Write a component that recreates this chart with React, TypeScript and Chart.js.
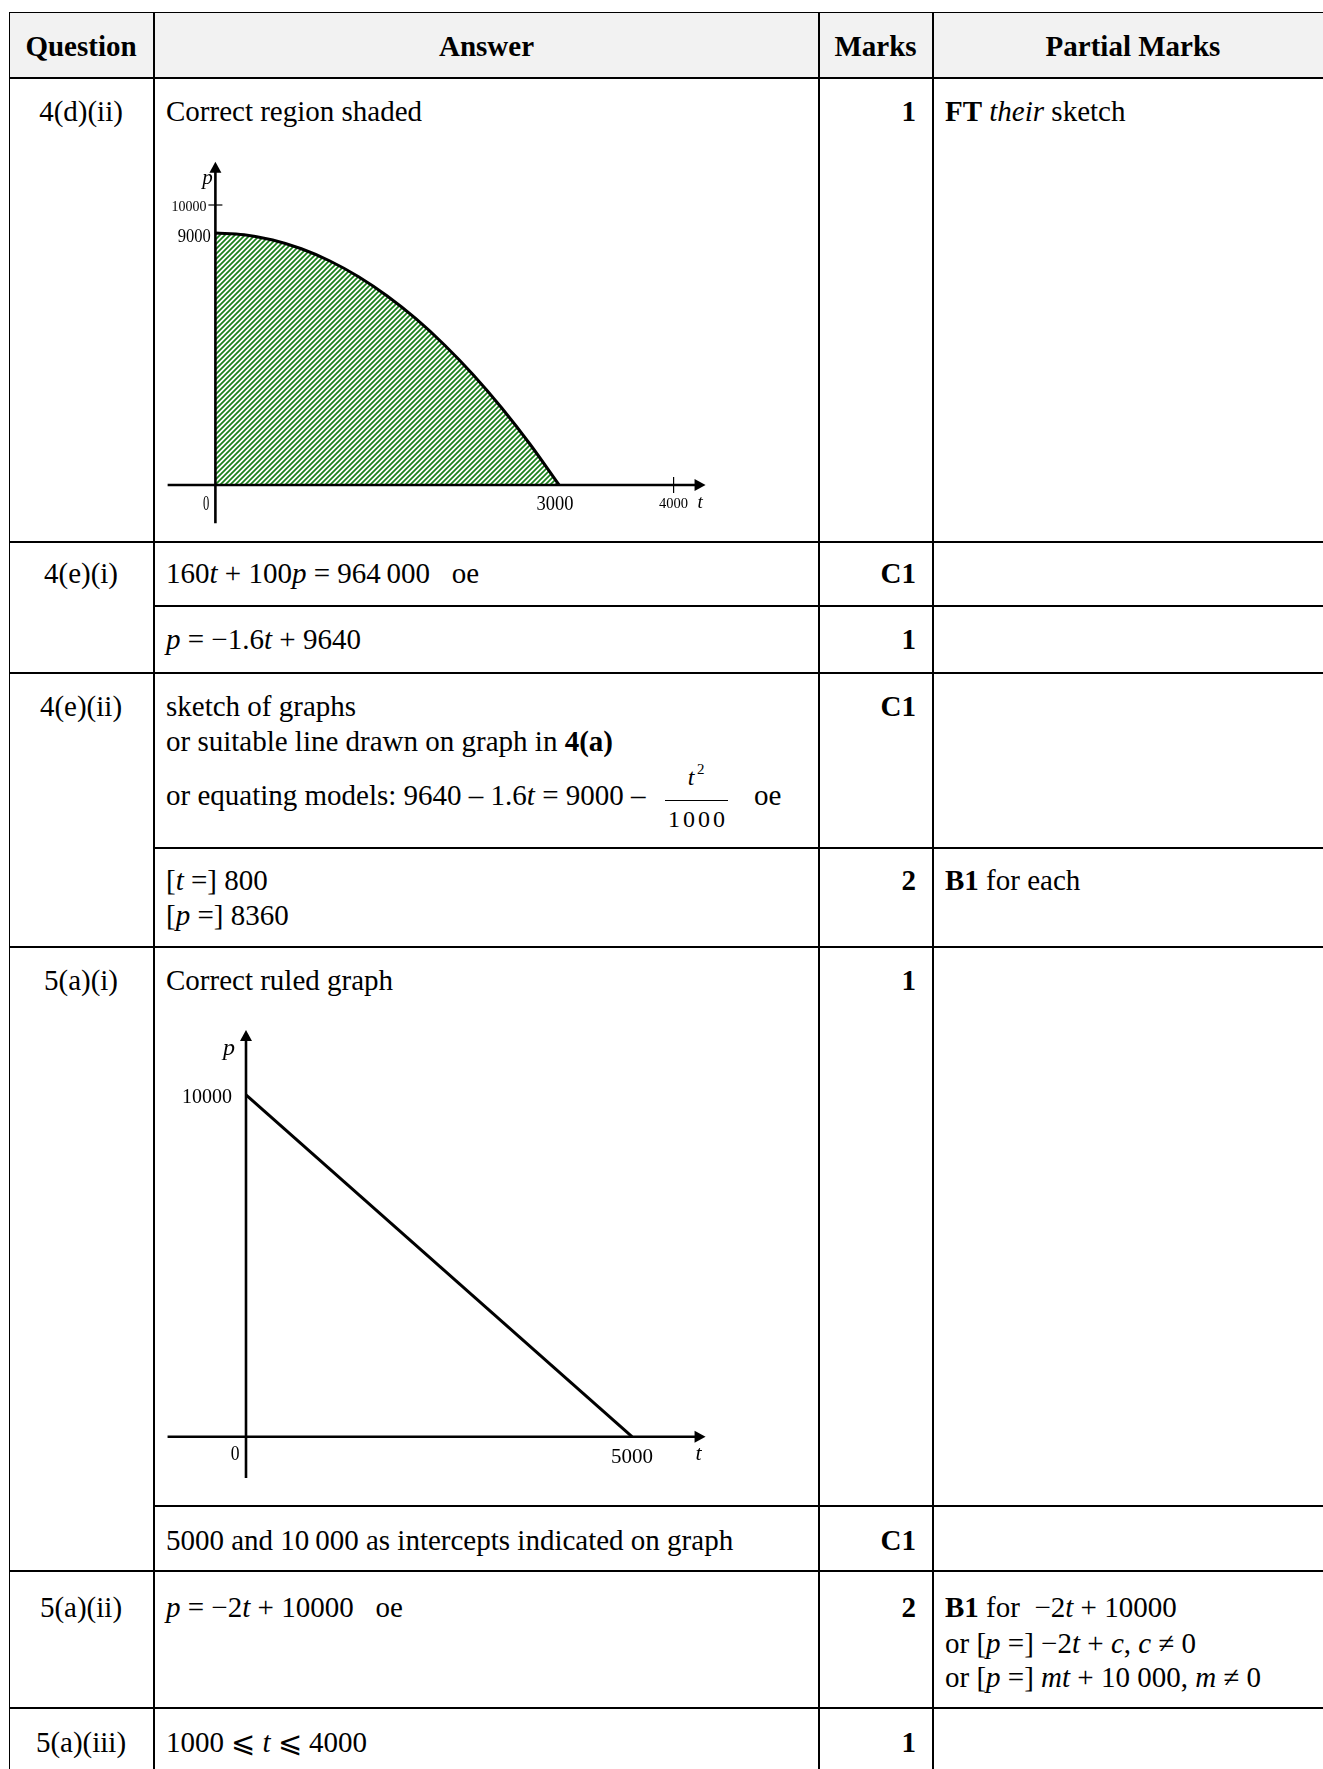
import React, { useEffect, useRef } from 'react';
import { Chart, registerables } from 'chart.js';

Chart.register(...registerables);

// ---------- Graph 1 (4(d)(ii)) : shaded region under p = 9000 − t²/1000 ----------
const CURVE_T = [0, 250, 500, 750, 1000, 1250, 1500, 1750, 2000, 2250, 2500, 2750, 3000];
const CURVE_P = [9000, 8938, 8750, 8438, 8000, 7438, 6750, 5938, 5000, 3938, 2750, 1438, 0];
const G1_X_TICKS = [0, 3000, 4000];
const G1_X_LABELS = ['0', '3000', '4000'];
const G1_Y_TICKS = [10000, 9000];
const G1_Y_LABELS = ['10000', '9000'];
const G1_X_MARKS = [4000];
const G1_Y_MARKS = [10000];

// ---------- Graph 2 (5(a)(i)) : ruled line ----------
const LINE_T = [0, 5000];
const LINE_P = [10000, 0];
const G2_X_TICKS = [0, 5000];
const G2_X_LABELS = ['0', '5000'];
const G2_Y_TICKS = [10000];
const G2_Y_LABELS = ['10000'];

const AXIS_NAMES = ['t', 'p'];

const FF = '"Liberation Serif", "Times New Roman", "DejaVu Serif", serif';

type LabStyle = { dx: number; dy: number; size: number; sx: number; align: CanvasTextAlign };

function drawLabel(ctx: CanvasRenderingContext2D, text: string, x: number, y: number, size: number,
  align: CanvasTextAlign, sx = 1, italic = false) {
  ctx.save();
  ctx.font = `${italic ? 'italic ' : ''}${size}px "Liberation Serif", serif`;
  ctx.textBaseline = 'alphabetic';
  ctx.textAlign = align;
  ctx.fillStyle = '#000';
  ctx.translate(x, y);
  ctx.scale(sx, 1);
  ctx.fillText(text, 0, 0);
  ctx.restore();
}

function axisArrow(ctx: CanvasRenderingContext2D, x1: number, y1: number, x2: number, y2: number, horizontal: boolean) {
  const L = 11, W = 6;
  ctx.beginPath();
  if (horizontal) { ctx.moveTo(x1, y1); ctx.lineTo(x2 - L + 1, y2); }
  else { ctx.moveTo(x1, y1); ctx.lineTo(x2, y2 + L - 1); }
  ctx.stroke();
  ctx.beginPath();
  if (horizontal) { ctx.moveTo(x2, y2); ctx.lineTo(x2 - L, y2 - W); ctx.lineTo(x2 - L, y2 + W); }
  else { ctx.moveTo(x2, y2); ctx.lineTo(x2 - W, y2 + L); ctx.lineTo(x2 + W, y2 + L); }
  ctx.closePath();
  ctx.fill();
}

function makePattern(): CanvasPattern | string {
  const c = document.createElement('canvas');
  c.width = 5; c.height = 5;
  const g = c.getContext('2d');
  if (!g) return '#6fb36f';
  g.strokeStyle = '#198019';
  g.lineWidth = 1.7;
  g.beginPath();
  g.moveTo(-1, 6); g.lineTo(6, -1);
  g.moveTo(-1, 1); g.lineTo(1, -1);
  g.moveTo(4, 6); g.lineTo(6, 4);
  g.stroke();
  return g.createPattern(c, 'repeat') || '#6fb36f';
}

function baseOptions(xmin: number, xmax: number, ymin: number, ymax: number): any {
  return {
    animation: false,
    responsive: false,
    maintainAspectRatio: false,
    events: [],
    layout: { padding: 0 },
    plugins: { legend: { display: false }, tooltip: { enabled: false } },
    scales: {
      x: { type: 'linear', min: xmin, max: xmax, display: false },
      y: { type: 'linear', min: ymin, max: ymax, display: false },
    },
  };
}

function buildGraph1(): any {
  const G1_X_STYLE: LabStyle[] = [
    { dx: -6, dy: 25, size: 21, sx: 0.6, align: 'right' },
    { dx: -4, dy: 25, size: 21, sx: 0.88, align: 'center' },
    { dx: 0, dy: 23, size: 14.5, sx: 1, align: 'center' },
  ];
  const G1_Y_STYLE: LabStyle[] = [
    { dx: -9, dy: 5.5, size: 15.5, sx: 0.9, align: 'right' },
    { dx: -4.6, dy: 8.5, size: 18, sx: 0.92, align: 'right' },
  ];
  const axes = {
    id: 'axes1',
    afterDatasetsDraw(chart: any) {
      const ctx: CanvasRenderingContext2D = chart.ctx;
      const X = (v: number) => chart.scales.x.getPixelForValue(v);
      const Y = (v: number) => chart.scales.y.getPixelForValue(v);
      ctx.save();
      ctx.strokeStyle = '#000';
      ctx.fillStyle = '#000';
      ctx.lineWidth = 2.6;
      axisArrow(ctx, X(-417), Y(0), X(4279), Y(0), true);
      axisArrow(ctx, X(0), Y(-1368), X(0), Y(11546), false);
      ctx.lineWidth = 1.2;
      G1_X_MARKS.forEach((v) => { ctx.beginPath(); ctx.moveTo(X(v), Y(0) - 8); ctx.lineTo(X(v), Y(0) + 8); ctx.stroke(); });
      G1_Y_MARKS.forEach((v) => { ctx.beginPath(); ctx.moveTo(X(0) - 7, Y(v)); ctx.lineTo(X(0) + 7, Y(v)); ctx.stroke(); });
      G1_X_TICKS.forEach((v, i) => {
        const s = G1_X_STYLE[i];
        drawLabel(ctx, G1_X_LABELS[i], X(v) + s.dx, Y(0) + s.dy, s.size, s.align, s.sx);
      });
      G1_Y_TICKS.forEach((v, i) => {
        const s = G1_Y_STYLE[i];
        drawLabel(ctx, G1_Y_LABELS[i], X(0) + s.dx, Y(v) + s.dy, s.size, s.align, s.sx);
      });
      drawLabel(ctx, AXIS_NAMES[0], X(4279) - 8, Y(0) + 23, 19, 'left', 1, true);
      drawLabel(ctx, AXIS_NAMES[1], X(0) - 8, Y(11546) + 22, 21, 'center', 1, true);
      ctx.restore();
    },
  };
  return {
    type: 'line',
    data: {
      datasets: [{
        data: CURVE_T.map((t, i) => ({ x: t, y: CURVE_P[i] })),
        borderColor: '#000',
        borderWidth: 3,
        pointRadius: 0,
        fill: 'origin',
        backgroundColor: makePattern(),
        cubicInterpolationMode: 'monotone',
      }],
    },
    options: baseOptions(-483.6, 4405.1, -1786, 12143),
    plugins: [axes],
  };
}

function buildGraph2(): any {
  const G2_X_STYLE: LabStyle[] = [
    { dx: -6.5, dy: 23, size: 22, sx: 0.8, align: 'right' },
    { dx: 0, dy: 26.5, size: 21, sx: 1, align: 'center' },
  ];
  const G2_Y_STYLE: LabStyle[] = [
    { dx: -14, dy: 8, size: 20, sx: 1, align: 'right' },
  ];
  const axes = {
    id: 'axes2',
    afterDatasetsDraw(chart: any) {
      const ctx: CanvasRenderingContext2D = chart.ctx;
      const X = (v: number) => chart.scales.x.getPixelForValue(v);
      const Y = (v: number) => chart.scales.y.getPixelForValue(v);
      ctx.save();
      ctx.strokeStyle = '#000';
      ctx.fillStyle = '#000';
      ctx.lineWidth = 2.6;
      axisArrow(ctx, X(-1016), Y(0), X(5953), Y(0), true);
      axisArrow(ctx, X(0), Y(-1209), X(0), Y(11902), false);
      G2_X_TICKS.forEach((v, i) => {
        const s = G2_X_STYLE[i];
        drawLabel(ctx, G2_X_LABELS[i], X(v) + s.dx, Y(0) + s.dy, s.size, s.align, s.sx);
      });
      G2_Y_TICKS.forEach((v, i) => {
        const s = G2_Y_STYLE[i];
        drawLabel(ctx, G2_Y_LABELS[i], X(0) + s.dx, Y(v) + s.dy, s.size, s.align, s.sx);
      });
      drawLabel(ctx, AXIS_NAMES[0], X(5953) - 10, Y(0) + 23, 22, 'left', 1, true);
      drawLabel(ctx, AXIS_NAMES[1], X(0) - 17, Y(11902) + 25, 24, 'center', 1, true);
      ctx.restore();
    },
  };
  return {
    type: 'line',
    data: {
      datasets: [{
        data: LINE_T.map((t, i) => ({ x: t, y: LINE_P[i] })),
        borderColor: '#000',
        borderWidth: 3,
        pointRadius: 0,
        fill: false,
      }],
    },
    options: baseOptions(-1114, 6140, -1706, 12341),
    plugins: [axes],
  };
}

function Graph({ left, top, width, height, build }: { left: number; top: number; width: number; height: number; build: () => any }) {
  const ref = useRef<HTMLCanvasElement>(null);
  useEffect(() => {
    if (!ref.current) return;
    const chart = new Chart(ref.current, build());
    return () => chart.destroy();
  }, []);
  return <canvas ref={ref} width={width} height={height} style={{ position: 'absolute', left, top, width, height }} />;
}

function T({ x, y, a = 'l', s = 29, b = false, ls = 0, children }: { x: number; y: number; a?: string; s?: number; b?: boolean; ls?: number; children: any }) {
  const tr = a === 'c' ? 'translateX(-50%)' : a === 'r' ? 'translateX(-100%)' : undefined;
  return (
    <div style={{
      position: 'absolute', left: x, top: y - 0.8375 * s, fontSize: s, lineHeight: `${s}px`,
      fontWeight: b ? 700 : 400, whiteSpace: 'pre', transform: tr, fontFamily: FF, color: '#000', letterSpacing: ls,
    }}>{children}</div>
  );
}

function H({ y, x1 = 8.5, h = 2 }: { y: number; x1?: number; h?: number }) {
  return <div style={{ position: 'absolute', left: x1, top: y, width: 1323 - x1, height: h, background: '#000' }} />;
}
function V({ x }: { x: number }) {
  return <div style={{ position: 'absolute', left: x, top: 12, width: 1.5, height: 1769 - 12, background: '#000' }} />;
}

const QX = 81;
const AX = 166;
const MX = 916;
const PX = 945;
const D = 2.5; // baseline nudge

export default function App() {
  return (
    <div style={{ position: 'absolute', left: 0, top: 0, width: 1323, height: 1769, overflow: 'hidden', background: '#fff', fontFamily: FF }}>
      {/* header background */}
      <div style={{ position: 'absolute', left: 9, top: 13, width: 1314, height: 64, background: '#f2f2f2' }} />

      {/* horizontal rules */}
      <H y={11.8} h={1.5} />
      <H y={77} />
      <H y={541} />
      <H y={605} x1={153} />
      <H y={672.2} />
      <H y={847.2} x1={153} />
      <H y={946} />
      <H y={1505.2} x1={153} />
      <H y={1570} />
      <H y={1707.4} />

      {/* vertical rules */}
      <V x={8.5} />
      <V x={153.2} />
      <V x={818.2} />
      <V x={932.2} />

      {/* header */}
      <T x={QX} y={56} a="c" b>Question</T>
      <T x={486.5} y={56} a="c" b>Answer</T>
      <T x={875.5} y={56} a="c" b>Marks</T>
      <T x={1133} y={56} a="c" b>Partial Marks</T>

      {/* 4(d)(ii) */}
      <T x={QX} y={119 + D} a="c">4(d)(ii)</T>
      <T x={AX} y={119 + D}>Correct region shaded</T>
      <T x={MX} y={119 + D} a="r" b>1</T>
      <T x={PX} y={119 + D}><b>FT</b> <i>their</i> sketch</T>
      <Graph left={160} top={145} width={560} height={390} build={buildGraph1} />

      {/* 4(e)(i) */}
      <T x={QX} y={580.5 + D} a="c">4(e)(i)</T>
      <T x={AX} y={580.5 + D}>160<i>t</i> + 100<i>p</i> = 964{'\u2009'}000{'   '}oe</T>
      <T x={MX} y={580.5 + D} a="r" b>C1</T>
      <T x={AX} y={647 + D}><i>p</i> = {'\u2212'}1.6<i>t</i> + 9640</T>
      <T x={MX} y={647 + D} a="r" b>1</T>

      {/* 4(e)(ii) */}
      <T x={QX} y={714 + D} a="c">4(e)(ii)</T>
      <T x={AX} y={714 + D}>sketch of graphs</T>
      <T x={AX} y={749 + D}>or suitable line drawn on graph in <b>4(a)</b></T>
      <T x={AX} y={805}>or equating models: 9640 – 1.6<i>t</i> = 9000 –</T>
      <T x={691} y={785} s={24} a="c"><i>t</i></T>
      <T x={697} y={775} s={15}>2</T>
      <div style={{ position: 'absolute', left: 665, top: 799.5, width: 63, height: 1.5, background: '#000' }} />
      <T x={698} y={827} s={24} a="c" ls={3}>1000</T>
      <T x={754} y={805}>oe</T>
      <T x={MX} y={714 + D} a="r" b>C1</T>

      <T x={AX} y={888 + D}>[<i>t</i> =] 800</T>
      <T x={AX} y={923 + D}>[<i>p</i> =] 8360</T>
      <T x={MX} y={888 + D} a="r" b>2</T>
      <T x={PX} y={888 + D}><b>B1</b> for each</T>

      {/* 5(a)(i) */}
      <T x={QX} y={988 + D} a="c">5(a)(i)</T>
      <T x={AX} y={988 + D}>Correct ruled graph</T>
      <T x={MX} y={988 + D} a="r" b>1</T>
      <Graph left={160} top={1015} width={560} height={480} build={buildGraph2} />

      <T x={AX} y={1548 + D}>5000 and 10{'\u2009'}000 as intercepts indicated on graph</T>
      <T x={MX} y={1548 + D} a="r" b>C1</T>

      {/* 5(a)(ii) */}
      <T x={QX} y={1615 + D} a="c">5(a)(ii)</T>
      <T x={AX} y={1615 + D}><i>p</i> = {'\u2212'}2<i>t</i> + 10000{'   '}oe</T>
      <T x={MX} y={1615 + D} a="r" b>2</T>
      <T x={PX} y={1615 + D}><b>B1</b> for {' '}{'\u2212'}2<i>t</i> + 10000</T>
      <T x={PX} y={1651 + D}>or [<i>p</i> =] {'\u2212'}2<i>t</i> + <i>c</i>, <i>c</i> ≠ 0</T>
      <T x={PX} y={1685 + D}>or [<i>p</i> =] <i>mt</i> + 10 000, <i>m</i> ≠ 0</T>

      {/* 5(a)(iii) */}
      <T x={QX} y={1750 + D} a="c">5(a)(iii)</T>
      <T x={AX} y={1750 + D}>1000 ⩽ <i>t</i> ⩽ 4000</T>
      <T x={MX} y={1750 + D} a="r" b>1</T>
    </div>
  );
}
